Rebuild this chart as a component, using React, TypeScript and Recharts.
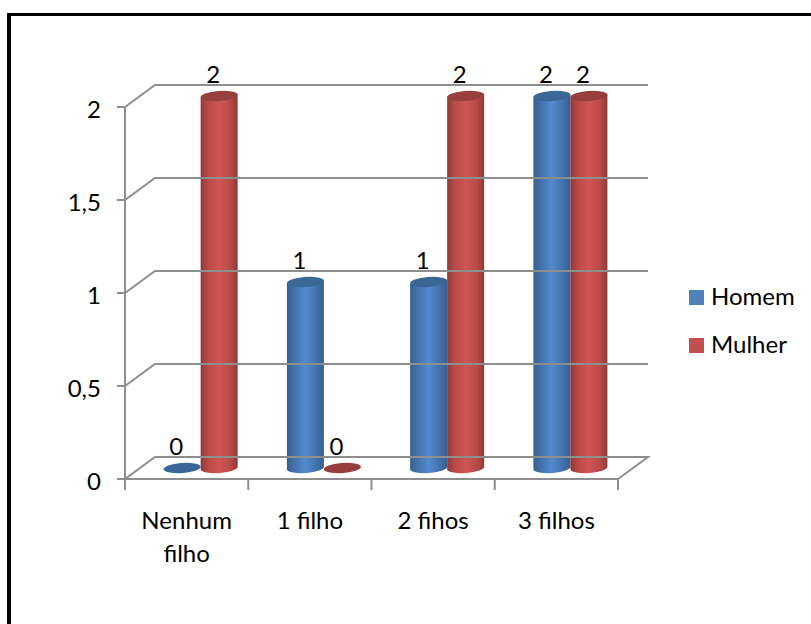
import { BarChart, Bar, XAxis, YAxis, ReferenceLine, LabelList, Legend } from "recharts";

const categories = ["Nenhum filho", "1 filho", "2 fihos", "3 filhos"];
const homem = [0, 1, 1, 2];
const mulher = [2, 0, 2, 2];
const yTicks = [0, 0.5, 1, 1.5, 2];

const data = categories.map((name, i) => ({ name, Homem: homem[i], Mulher: mulher[i] }));

const FONT = "Lato, 'Open Sans', sans-serif";
const FONT_SIZE = 24;
const GRID = "#8e8e8e";
// depth of the fake 3d box, and where the bars sit inside it
const DEPTH_X = 30;
const DEPTH_Y = 22;
const BAR_DX = 14;
const BAR_DY = 11;

function WallLine(props: any) {
  const { x1, y1, x2, y2 } = props;
  return (
    <path
      d={`M${x1} ${y1}L${x1 + DEPTH_X} ${y1 - DEPTH_Y}L${x2 + DEPTH_X} ${y2 - DEPTH_Y}`}
      fill="none"
      stroke={GRID}
      strokeWidth={2}
    />
  );
}

function FloorLine(props: any) {
  const { x1, y1, x2, y2 } = props;
  return (
    <path
      d={`M${x1} ${y1}L${x1 + DEPTH_X} ${y1 - DEPTH_Y}L${x2 + DEPTH_X} ${y2 - DEPTH_Y}L${x2} ${y2}`}
      fill="none"
      stroke={GRID}
      strokeWidth={2}
    />
  );
}

function Cylinder(props: any) {
  const { x, y, width, height, gradient, cap } = props;
  const l = x + BAR_DX;
  const r = l + width;
  const top = y - BAR_DY;
  const bot = top + height;
  const rx = width / 2;
  const ry = 5;
  const capPath = `M${l} ${top + 1.5}A${rx} ${ry} -4 0 1 ${r} ${top - 1.5}A${rx} ${ry} -4 0 1 ${l} ${top + 1.5}Z`;
  return (
    <g>
      {height > 0 && (
        <path
          d={`M${l} ${top + 1.5}L${l} ${bot + 1.5}A${rx} ${ry} -4 0 0 ${r} ${bot - 1.5}L${r} ${top - 1.5}Z`}
          fill={`url(#${gradient})`}
        />
      )}
      <path d={capPath} fill={cap} />
    </g>
  );
}

function ValueLabel(props: any) {
  const { x, y, width, value } = props;
  return (
    <text
      x={x + width / 2 + 8}
      y={y - 34}
      textAnchor="middle"
      dominantBaseline="central"
      fontFamily={FONT}
      fontSize={FONT_SIZE}
      fill="#000"
    >
      {value}
    </text>
  );
}

// ticks sit on the band edges, not the band centres, so they are drawn here
function CategoryTick(props: any) {
  const { x, y, payload, index, width, visibleTicksCount } = props;
  const band = width / visibleTicksCount;
  const lines = payload.value.length > 8 ? payload.value.split(" ") : [payload.value];
  const edge = x - band / 2;
  return (
    <g>
      <line x1={edge} y1={y - 12} x2={edge} y2={y - 1} stroke={GRID} strokeWidth={2} />
      {index === visibleTicksCount - 1 && (
        <line x1={edge + band} y1={y - 12} x2={edge + band} y2={y - 1} stroke={GRID} strokeWidth={2} />
      )}
      <text x={x} y={y + 38} textAnchor="middle" fontFamily={FONT} fontSize={FONT_SIZE} fill="#000">
        {lines.map((line: string, i: number) => (
          <tspan key={line} x={x} dy={i === 0 ? 0 : 33}>
            {line}
          </tspan>
        ))}
      </text>
    </g>
  );
}

function LegendBox(props: any) {
  return (
    <div>
      {props.payload.map((item: any) => (
        <div
          key={item.value}
          style={{ display: "flex", alignItems: "center", height: 48, fontFamily: FONT, fontSize: FONT_SIZE, color: "#000" }}
        >
          <span style={{ width: 15, height: 15, background: item.color, marginRight: 7 }} />
          <span style={{ position: "relative", top: -2 }}>{item.value}</span>
        </div>
      ))}
    </div>
  );
}

export default function App() {
  return (
    <div style={{ position: "absolute", left: 0, top: 0, width: 811, height: 624, overflow: "hidden", background: "#fff" }}>
      <div
        style={{
          position: "absolute",
          left: 7,
          top: 13,
          width: 900,
          height: 700,
          borderTop: "3px solid #000",
          borderLeft: "4px solid #000",
        }}
      />
      <BarChart
        width={811}
        height={624}
        data={data}
        margin={{ top: 107, right: 71, bottom: 85, left: 65 }}
        barCategoryGap="20%"
        barGap={0}
        style={{ position: "absolute", left: 0, top: 0 }}
      >
        <defs>
          <linearGradient id="blueCyl" x1="0" y1="0" x2="1" y2="0">
            <stop offset="0" stopColor="#36608f" />
            <stop offset="0.2" stopColor="#4272ab" />
            <stop offset="0.5" stopColor="#558ad0" />
            <stop offset="0.8" stopColor="#4272ab" />
            <stop offset="1" stopColor="#36608f" />
          </linearGradient>
          <linearGradient id="redCyl" x1="0" y1="0" x2="1" y2="0">
            <stop offset="0" stopColor="#8f3a38" />
            <stop offset="0.2" stopColor="#b84a48" />
            <stop offset="0.5" stopColor="#cf5654" />
            <stop offset="0.8" stopColor="#b84a48" />
            <stop offset="1" stopColor="#8f3a38" />
          </linearGradient>
        </defs>
        <XAxis
          dataKey="name"
          interval={0}
          height={60}
          tick={<CategoryTick />}
          tickSize={10}
          axisLine={{ stroke: GRID, strokeWidth: 2 }}
          tickLine={false}
        />
        <YAxis
          width={60}
          domain={[0, 2]}
          ticks={yTicks}
          tickFormatter={(v: number) => String(v).replace(".", ",")}
          tickSize={8}
          tickMargin={16}
          tick={{ fontFamily: FONT, fontSize: FONT_SIZE, fill: "#000", dy: 2 }}
          axisLine={{ stroke: GRID, strokeWidth: 2 }}
          tickLine={{ stroke: GRID, strokeWidth: 2 }}
        />
        <ReferenceLine y={0} ifOverflow="visible" shape={<FloorLine />} />
        {yTicks.slice(1).map((v) => (
          <ReferenceLine key={v} y={v} ifOverflow="visible" shape={<WallLine />} />
        ))}
        <Legend
          layout="vertical"
          align="right"
          verticalAlign="top"
          content={<LegendBox />}
          wrapperStyle={{ left: 689, top: 273, width: 122 }}
        />
        <Bar
          dataKey="Homem"
          fill="#4f81bd"
          isAnimationActive={false}
          shape={<Cylinder gradient="blueCyl" cap="#3b6797" />}
        >
          <LabelList dataKey="Homem" content={<ValueLabel />} />
        </Bar>
        <Bar
          dataKey="Mulher"
          fill="#c0504d"
          isAnimationActive={false}
          shape={<Cylinder gradient="redCyl" cap="#963f3d" />}
        >
          <LabelList dataKey="Mulher" content={<ValueLabel />} />
        </Bar>
      </BarChart>
    </div>
  );
}
